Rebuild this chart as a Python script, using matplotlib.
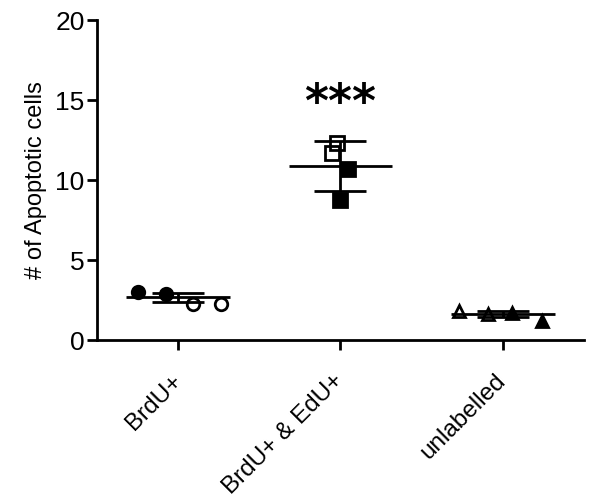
import matplotlib
matplotlib.use('Agg')
import matplotlib.pyplot as plt
import matplotlib.transforms as mtransforms
import numpy as np

plt.rcParams['font.family'] = ['Liberation Sans', 'DejaVu Sans']

groups = ['BrdU+', 'BrdU+ & EdU+', 'unlabelled']
# individual points per group (value, x-offset from the group centre)
g1_vals = [3.02, 2.87, 2.25, 2.25]
g1_off = [-0.25, -0.075, 0.09, 0.265]
g2_vals = [12.3, 11.7, 10.7, 8.75]
g2_off = [-0.02, -0.055, 0.045, 0.0]
g3_vals = [1.85, 1.65, 1.7, 1.2]
g3_off = [-0.27, -0.09, 0.055, 0.24]
# mean and SD
means = [2.68, 10.86, 1.62]
sds = [0.3, 1.56, 0.18]

fig = plt.figure(figsize=(5.89, 5.04), dpi=100)
ax = fig.add_axes([0.165, 0.325, 0.826, 0.635])

ms = 9
# BrdU+: two filled circles then two open circles
for i, (v, o) in enumerate(zip(g1_vals, g1_off)):
    fc = 'black' if i < 2 else 'white'
    ax.plot(0 + o, v, 'o', ms=ms, mfc=fc, mec='black', mew=2, zorder=3)
# BrdU+ & EdU+: two open squares then two filled squares
for i, (v, o) in enumerate(zip(g2_vals, g2_off)):
    fc = 'none' if i < 2 else 'black'
    ax.plot(1 + o, v, 's', ms=ms + 1, mfc=fc, mec='black', mew=2, zorder=3)
# unlabelled: two open triangles then two filled
for i, (v, o) in enumerate(zip(g3_vals, g3_off)):
    fc = 'white' if i < 2 else 'black'
    ax.plot(2 + o, v, '^', ms=ms, mfc=fc, mec='black', mew=2, zorder=3)

# mean and SD lines
for x, m, s in zip(range(3), means, sds):
    ax.hlines(m, x - 0.32, x + 0.32, color='black', lw=2, zorder=4)
    ax.hlines([m - s, m + s], x - 0.16, x + 0.16, color='black', lw=2, zorder=4)
    ax.vlines(x, m - s, m + s, color='black', lw=2, zorder=4)

ax.text(1, 14.7, '***', ha='center', va='center', fontsize=33,
        fontweight='bold', family='DejaVu Sans')

ax.set_xlim(-0.5, 2.5)
ax.set_ylim(0, 20)
ax.set_yticks([0, 5, 10, 15, 20])
ax.set_xticks(range(3))
ax.set_xticklabels(groups, rotation=45, ha='right', va='center',
                   rotation_mode='anchor', fontsize=17.5)
shift = mtransforms.ScaledTranslation(-6 / 72, 0, fig.dpi_scale_trans)
for lab in ax.get_xticklabels():
    lab.set_transform(lab.get_transform() + shift)
ax.tick_params(axis='y', labelsize=19, width=2, length=7, pad=2)
ax.tick_params(axis='x', width=2, length=7, pad=20)
ax.set_ylabel('# of Apoptotic cells', fontsize=17, labelpad=6)
for sp in ['top', 'right']:
    ax.spines[sp].set_visible(False)
for sp in ['left', 'bottom']:
    ax.spines[sp].set_linewidth(2)

fig.savefig('out.png', dpi=100)
